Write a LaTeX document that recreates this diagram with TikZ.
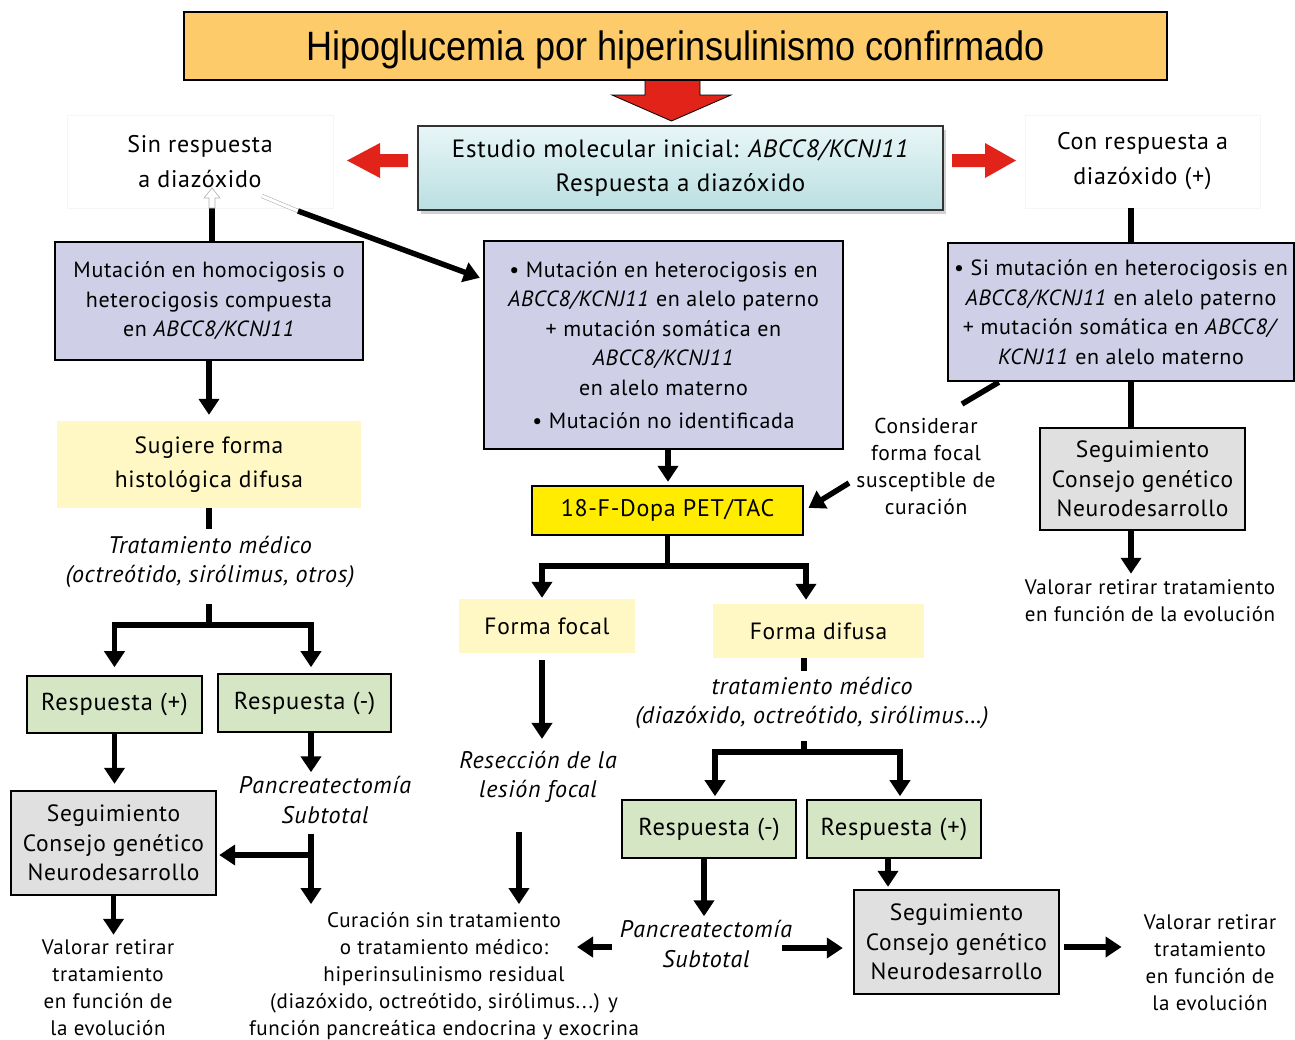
\documentclass[tikz,border=0pt]{standalone}
\usepackage{fontspec}
\setmainfont{PT Sans}[LetterSpace=3]
\newfontfamily\titlefont[FakeStretch=0.88]{Liberation Sans}
\usetikzlibrary{arrows.meta,shadows,calc}

\definecolor{titlefill}{RGB}{253,203,106}
\definecolor{blockred}{RGB}{226,35,26}
\definecolor{studytop}{RGB}{232,246,247}
\definecolor{studybot}{RGB}{186,223,226}
\definecolor{lavfill}{RGB}{207,207,232}
\definecolor{paleyellow}{RGB}{255,248,196}
\definecolor{petyellow}{RGB}{255,236,0}
\definecolor{greenfill}{RGB}{213,230,196}
\definecolor{grayfill}{RGB}{224,224,224}

\tikzset{
  every node/.style={inner sep=0pt, align=center, font=\fontsize{22}{29.5}\selectfont},
  small/.style={font=\fontsize{21}{27}\selectfont},
  ital/.style={font=\itshape\fontsize{24}{29.5}\selectfont},
  lavbox/.style={draw=black, line width=2.4pt, fill=lavfill},
  softbox/.style={fill=paleyellow, font=\fontsize{23.5}{34}\selectfont},
  greenbox/.style={draw=black, line width=1.6pt, fill=greenfill, font=\fontsize{24.5}{29}\selectfont},
  graybox/.style={draw=black, line width=2.4pt, fill=grayfill, font=\fontsize{23.5}{29.5}\selectfont},
  link/.style={line width=5.5pt},
  conn/.style={line width=5.5pt, -{Triangle[length=16pt,width=20pt]}},
}

\begin{document}
\begin{tikzpicture}[x=1pt,y=-1pt]
\fill[white] (0,0) rectangle (1295,1039);
\useasboundingbox (0,0) rectangle (1295,1039);

% ---------- header ----------
\filldraw[fill=blockred, draw=black, line width=0.8pt]
  (645,80) -- (700,80) -- (700,95) -- (731,95) -- (671.5,121) -- (612,95) -- (645,95) -- cycle;
\node[draw=black, line width=1.5pt, fill=titlefill, minimum width=983pt, minimum height=68pt,
      text depth=0pt, font=\titlefont\fontsize{41}{43}\selectfont] (title) at (675.5,46)
  {Hipoglucemia por hiperinsulinismo confirmado};

\node[draw=black!80, line width=2pt, top color=studytop, bottom color=studybot,
      drop shadow={shadow xshift=3pt, shadow yshift=-4pt, opacity=0.35},
      minimum width=525pt, minimum height=84pt, font=\fontsize{25}{34}\selectfont] (study) at (680.5,168)
  {Estudio molecular inicial: \textit{ABCC8/KCNJ11}\\Respuesta a diazóxido};

% side block arrows
\fill[blockred] (408,154) -- (380,154) -- (380,143) -- (347,160.5) -- (380,178) -- (380,167) -- (408,167) -- cycle;
\fill[blockred] (952,154) -- (985,154) -- (985,143) -- (1016,160.5) -- (985,178) -- (985,167) -- (952,167) -- cycle;

\node[draw=black!4, line width=0.8pt, minimum width=266pt, minimum height=93pt,
      font=\fontsize{24}{35}\selectfont] (sinbox) at (200,161.5) {Sin respuesta\\a diazóxido};
\node[draw=black!4, line width=0.8pt, minimum width=235pt, minimum height=93pt,
      font=\fontsize{24}{35}\selectfont] (conbox) at (1142.5,161.5) {Con respuesta a\\diazóxido (+)};

% ---------- genetic result boxes ----------
\node[lavbox, minimum width=308pt, minimum height=118pt] (lavL) at (209,301)
  {Mutación en homocigosis o\\heterocigosis compuesta\\en \textit{ABCC8/KCNJ11}};
\node[lavbox, minimum width=359pt, minimum height=208pt] (lavC) at (663.5,345)
  {• Mutación en heterocigosis en\\\textit{ABCC8/KCNJ11} en alelo paterno\\+ mutación somática en\\\textit{ABCC8/KCNJ11}\\en alelo materno\\[4pt]• Mutación no identificada};
\node[lavbox, minimum width=346pt, minimum height=138pt] (lavR) at (1121,312)
  {• Si mutación en heterocigosis en\\\textit{ABCC8/KCNJ11} en alelo paterno\\+ mutación somática en \textit{ABCC8/}\\\textit{KCNJ11} en alelo materno};

% links from the response boxes
\draw[link] ([xshift=3pt]lavL.north) -- ([xshift=3pt]lavL.north |- sinbox.south);
\filldraw[fill=white, draw=black!30, line width=0.6pt]
  (209,208) -- (209,198) -- (204,198) -- (212,188) -- (220,198) -- (215,198) -- (215,208) -- cycle;
\coordinate (diagStart) at (298,211);
\draw[draw=black!30, double=white, double distance=3pt, line width=0.6pt] (262,196) -- (diagStart);
\draw[conn] (diagStart) -- ($(lavC.north west)+(-3,38)$);
\draw[link] ([xshift=10pt]lavR.north) -- ([xshift=10pt]lavR.north |- conbox.south);
\coordinate (cTop) at (962,404);
\draw[link] (cTop) -- ($(lavR.south west)+(52,0)$);

% ---------- right column ----------
\node[graybox, minimum width=205pt, minimum height=102pt] (segR) at (1142.5,479)
  {Seguimiento\\Consejo genético\\Neurodesarrollo};
\node[small] (valR) at (1150,601) {Valorar retirar tratamiento\\en función de la evolución};
\draw[link] ([xshift=10pt]lavR.south) -- ([xshift=10pt]lavR.south |- segR.north);
\draw[conn, shorten >=6pt] ([xshift=-11.5pt]segR.south) -- ([xshift=-11.5pt]segR.south |- valR.north);

% ---------- centre column ----------
\node[draw=black, line width=2.4pt, fill=petyellow, minimum width=271pt, minimum height=49pt,
      font=\fontsize{24}{29}\selectfont] (pet) at (667.5,510.5) {18-F-Dopa PET/TAC};
\draw[conn, shorten >=3pt] ([xshift=4.5pt]lavC.south) -- ([xshift=4.5pt]lavC.south |- pet.north);

\node[small, font=\fontsize{21.5}{27}\selectfont] (consider) at (926,466) {Considerar\\forma focal\\susceptible de\\curación};
\coordinate (cArr) at (849,483);
\draw[conn, shorten >=5pt] (cArr) -- (pet.east);

\node[softbox, minimum width=176pt, minimum height=54pt] (focal) at (547,626) {Forma focal};
\node[softbox, minimum width=211pt, minimum height=54pt] (difusa) at (818.5,631) {Forma difusa};

\coordinate (petFork) at ($(pet.south)+(0,30)$);
\draw[link] (pet.south) -- (petFork);
\draw[conn, shorten >=1pt] (petFork) -| ([xshift=-5pt]focal.north);
\draw[conn, shorten >=4pt] (petFork) -| ([xshift=-12.5pt]difusa.north);

\node[ital] (reseccion) at (538,777) {Resección de la\\lesión focal};
\draw[conn, shorten <=7pt, shorten >=12pt] ([xshift=-5pt]focal.south) -- ([xshift=-5pt]focal.south |- reseccion.north);

\node[ital] (tratD) at (812,703) {tratamiento médico\\(diazóxido, octreótido, sirólimus...)};
\draw[link, shorten >=6pt] ([xshift=-14.5pt]difusa.south) -- ([xshift=-8pt]tratD.north);
\coordinate (dFork) at ($(difusa.south)+(-14.5,94)$);
\draw[link, shorten <=12pt] ([xshift=-8pt]tratD.south) -- (dFork);

\node[greenbox, minimum width=174pt, minimum height=58pt] (respDm) at (709,829) {Respuesta (-)};
\node[greenbox, minimum width=174pt, minimum height=58pt] (respDp) at (894,829) {Respuesta (+)};
\draw[conn, shorten >=3pt] (dFork) -| ([xshift=6pt]respDm.north);
\draw[conn, shorten >=3pt] (dFork) -| ([xshift=6pt]respDp.north);

\node[ital] (pancD) at (706,944) {Pancreatectomía\\Subtotal};
\node[graybox, minimum width=205pt, minimum height=104pt] (segD) at (956.5,942)
  {Seguimiento\\Consejo genético\\Neurodesarrollo};
\node[small] (valD) at (1210,963) {Valorar retirar\\tratamiento\\en función de\\la evolución};
\node[small] (curacion) at (444,976)
  {Curación sin tratamiento\\o tratamiento médico:\\hiperinsulinismo residual\\(diazóxido, octreótido, sirólimus...) y\\función pancreática endocrina y exocrina};

\draw[conn, shorten >=4pt] ([xshift=-5pt]respDm.south) -- ([xshift=-5pt]respDm.south |- pancD.north);
\draw[conn, shorten >=2pt] ([xshift=-6pt]respDp.south) -- ([xshift=-6pt]respDp.south |- segD.north);
\coordinate (pdE) at ($(pancD.east)+(-10,4)$);
\draw[conn, shorten >=10pt] (pdE) -- (pdE -| segD.west);
\coordinate (sdE) at ($(segD.east)+(0,5)$);
\draw[conn, shorten <=4pt, shorten >=22pt] (sdE) -- (sdE -| valD.west);
\coordinate (curArr) at (577,947);
\draw[conn] ($(pancD.west)+(-8,3)$) -- (curArr);
\draw[conn, shorten <=29pt, shorten >=8pt] ([xshift=-19pt]reseccion.south) -- ([xshift=-19pt]reseccion.south |- curacion.north);

% ---------- left column ----------
\node[softbox, minimum width=304pt, minimum height=87pt] (sugiere) at (209,464.5)
  {Sugiere forma\\histológica difusa};
\draw[conn, shorten >=6pt] (lavL.south) -- (sugiere.north);

\node[ital] (tratL) at (210,562) {Tratamiento médico\\(octreótido, sirólimus, otros)};
\draw[link, shorten >=7pt] (sugiere.south) -- (sugiere.south |- tratL.north);
\coordinate (lFork) at ($(sugiere.south)+(0,117)$);
\draw[link, shorten <=16pt] (sugiere.south |- tratL.south) -- (lFork);

\node[greenbox, minimum width=175pt, minimum height=57pt] (respLp) at (114.5,704.5) {Respuesta (+)};
\node[greenbox, minimum width=173pt, minimum height=58pt] (respLm) at (304.5,703) {Respuesta (-)};
\draw[conn, shorten >=8pt] (lFork) -| (respLp.north);
\draw[conn, shorten >=6pt] (lFork) -| ([xshift=6.5pt]respLm.north);

\node[graybox, minimum width=205pt, minimum height=104pt] (segL) at (113.5,843)
  {Seguimiento\\Consejo genético\\Neurodesarrollo};
\node[ital] (pancL) at (325,800) {Pancreatectomía\\Subtotal};
\node[small] (valL) at (108,988) {Valorar retirar\\tratamiento\\en función de\\la evolución};

\draw[conn, shorten >=6pt] (respLp.south) -- (respLp.south |- segL.north);
\coordinate (lcol) at ($(respLm.south)+(6.5,0)$);
\draw[conn, shorten >=4pt] (lcol) -- (lcol |- pancL.north);
\draw[conn, shorten <=10pt, shorten >=8pt] (lcol |- pancL.south) -- (lcol |- curacion.north);
\coordinate (lbr) at ($(segL.east)+(0,12)$);
\draw[conn, shorten >=2pt] (lbr -| lcol) -- (lbr);
\draw[conn, shorten >=5pt] (segL.south) -- (segL.south |- valL.north);
\end{tikzpicture}
\end{document}
